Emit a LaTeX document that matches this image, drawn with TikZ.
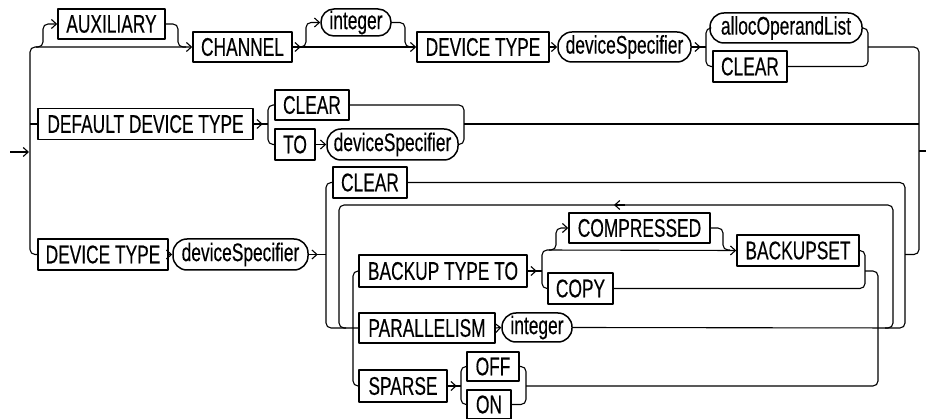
\documentclass[tikz,border=0pt]{standalone}
\usepackage{fontspec}
\setmainfont{Liberation Sans}[FakeStretch=0.68,FakeBold=0.35]
\usetikzlibrary{arrows.meta}
\begin{document}
\begin{tikzpicture}[x=1pt,y=-1pt,
  line width=1.1pt, line join=round,
  rr/.style={rounded corners=5pt},
  tip/.style={-{Straight Barb[length=5pt,width=9pt,line width=1.1pt]}},
  kw/.style={draw, line width=1.5pt, inner sep=0pt, minimum height=30pt,
    font=\fontsize{25.5}{28}\selectfont},
  var/.style={kw, rounded corners=14pt},
]
\useasboundingbox (0,0) rectangle (926,419);
% ---- nodes: row 1
\node[kw, minimum width=107pt] (aux) at (111.5,24) {AUXILIARY};
\node[kw, minimum width=99pt] (chan) at (242.5,47) {CHANNEL};
\node[var, minimum width=70pt, minimum height=27pt, rounded corners=13pt] (int1) at (356,22.5) {integer};
\node[kw, minimum width=132pt] (dt1) at (483,47) {DEVICE TYPE};
\node[var, minimum width=133pt] (ds1) at (624.5,47) {deviceSpecifier};
\node[var, minimum width=152pt] (alloc) at (786,28) {allocOperandList};
\node[kw, minimum width=74pt, minimum height=31pt] (clr1) at (750,66.5) {CLEAR};
% ---- row 2
\node[kw, minimum width=215pt, minimum height=31pt] (ddt) at (145.5,124) {DEFAULT DEVICE TYPE};
\node[kw, minimum width=74pt] (clr2) at (312,105) {CLEAR};
\node[kw, minimum width=40pt, minimum height=31pt] (to) at (295,144.5) {TO};
\node[var, minimum width=131pt, minimum height=31pt] (ds2) at (392.5,144.5) {deviceSpecifier};
% ---- row 3
\node[kw, minimum width=130pt, minimum height=31pt] (dt3) at (103,254.5) {DEVICE TYPE};
\node[var, minimum width=135pt, minimum height=31pt] (ds3) at (240.5,254.5) {deviceSpecifier};
\node[kw, minimum width=74pt, minimum height=31pt] (clr3) at (370,182.5) {CLEAR};
\node[kw, minimum width=168pt, minimum height=32pt] (btt) at (443,271) {BACKUP TYPE TO};
\node[kw, minimum width=141pt] (comp) at (639.5,228) {COMPRESSED};
\node[kw, minimum width=122pt, minimum height=31pt] (bset) at (798,250.5) {BACKUPSET};
\node[kw, minimum width=65pt, minimum height=31pt] (copy) at (580.5,288.5) {COPY};
\node[kw, minimum width=136pt] (par) at (427,328) {PARALLELISM};
\node[var, minimum width=70pt, minimum height=29pt] (int3) at (537,327.5) {integer};
\node[kw, minimum width=88pt, minimum height=32pt] (sparse) at (403,386) {SPARSE};
\node[kw, minimum width=52pt, minimum height=29pt] (off) at (493,366.5) {OFF};
\node[kw, minimum width=44pt, minimum height=29pt] (on) at (489,404.5) {ON};
% ---- entry / exit
\coordinate (start) at (10,152);
\coordinate (lv) at (29,152);
\coordinate (finish) at (926,151);
\draw[tip] (start) -- (lv);
\draw (919,151) -- (finish);
% ---- left trunk and row 1
\draw[rr,tip] (dt3.west) -| (30,47) -- (chan.west);
\draw (30,124) -- (ddt.west);
\draw[rr,tip] (36,47) -- (43,47) -- (43,24) -- (aux.west);
\draw[rr] (aux.east) -| (178,47) -- (186,47);
\draw[tip] (chan.east) -- ++(8,0);
\draw[tip] (chan.east) -- (dt1.west);
\draw[rr,tip] (299,47) -- (306,47) -- (306,22.5) -- (int1.west);
\draw[rr] (int1.east) -| (405,47) -- (412,47);
\draw[tip] (dt1.east) -- (ds1.west);
\draw[tip] (ds1.east) -- ++(9,0);
\draw (ds1.east) -- (706,47);
\draw[rr] (alloc.west) -| (706,66.5) -- (clr1.west);
\draw[rr] (alloc.east) -| (868,66.5) -- (clr1.east);
\draw[rr] (868,47) -| (919,254.5) -- (905,254.5);
% ---- row 2
\draw[tip] (ddt.east) -- ++(9,0);
\draw (ddt.east) -- (268,124);
\draw[rr] (clr2.west) -| (268,144.5) -- (to.west);
\draw[tip] (to.east) -- (ds2.west);
\draw[rr] (clr2.east) -| (464,144.5) -- (ds2.east);
\draw (464,124) -- (919,124);
% ---- row 3
\draw[tip] (dt3.east) -- (ds3.west);
\draw[tip] (ds3.east) -- ++(9,0);
\draw (ds3.east) -- (326,254.5);
\draw[rr] (clr3.west) -| (326,328) -- (par.west);
\draw[rr] (clr3.east) -| (905,328) -- (int3.east);
\draw[rr] (885,328) -- (893,328) -- (893,205) -- (339,205) -- (339,328) -- (346,328);
\draw[tip] (625,205) -- (614,205);
\draw[rr] (btt.west) -| (353,386) -- (sparse.west);
\draw[tip] (btt.east) -- ++(9,0);
\draw (btt.east) -- (542,271);
\draw[rr,tip] (copy.west) -| (542,250) -- (bset.west);
\draw[rr,tip] (549,250) -- (556,250) -- (556,228) -- (comp.west);
\draw[rr] (comp.east) -| (723,250) -- (730,250);
\draw[rr] (bset.east) -| (865,288.5) -- (copy.east);
\draw[rr] (865,271) -| (878,386) -- (526,386);
\draw[tip] (par.east) -- (int3.west);
\draw[tip] (sparse.east) -- ++(9,0);
\draw (sparse.east) -- (461,386);
\draw[rr] (off.west) -| (461,404.5) -- (on.west);
\draw[rr] (off.east) -| (526,404.5) -- (on.east);
\end{tikzpicture}
\end{document}
